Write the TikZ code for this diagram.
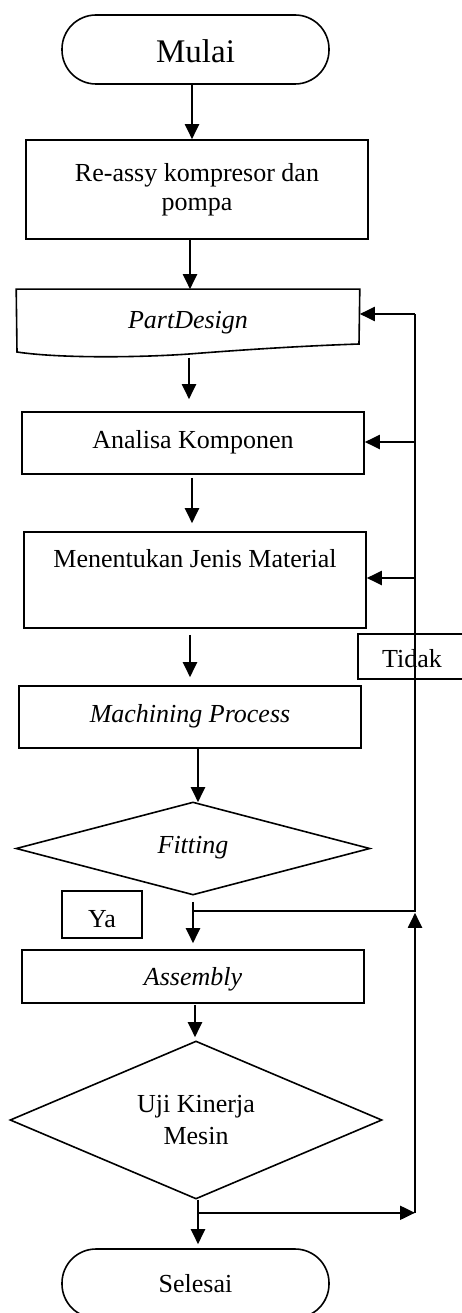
\documentclass[tikz,border=0pt]{standalone}
\usepackage{fontspec}
\setmainfont{Liberation Serif}
\usetikzlibrary{arrows.meta,shapes.geometric,calc}
\tikzset{
  base/.style={font=\fontsize{26pt}{29pt}\selectfont, line width=1.6pt, inner sep=0pt, align=center},
  box/.style={base, draw, rectangle, minimum width=342pt},
  onel/.style={text height=17pt, text depth=7pt},
  term/.style={base, draw, rectangle, rounded corners=34pt, minimum width=267pt, minimum height=69pt},
  decision/.style={base, draw, diamond},
  flowline/.style={line width=2pt},
  arr/.style={flowline, -{Triangle[length=15pt,width=14pt]}},
}
\begin{document}
\begin{tikzpicture}[x=1pt,y=-1pt]
\fill[white] (0,0) rectangle (462,1313);
\useasboundingbox (0,0) rectangle (462,1313);

% nodes
\node[term, text height=27pt, text depth=0pt, font=\fontsize{33pt}{36pt}\selectfont] (mulai) at (195.5,49.5) {Mulai};
\node[box, minimum height=99pt] (ra) at (197,189.5) {Re-assy kompresor dan\\pompa};
\node[box, onel, draw=none, minimum height=67pt] (pd) at (188,323.5) {\textit{PartDesign}};
\draw[line width=1.6pt] (pd.north west) -- (pd.north east) -- (359,344)
  .. controls (300,346) and (240,350) .. (189,354)
  .. controls (140,357.5) and (60,358.5) .. (17,352) -- cycle;
\node[box, onel, minimum height=62pt] (an) at (193,443) {Analisa Komponen};
\node[box, minimum height=96pt, text height=17pt, text depth=43pt] (mj) at (195,580) {Menentukan Jenis Material};
\node[base, draw, minimum width=108pt, minimum height=45pt, text height=21pt, text depth=0pt] (tidak) at (412,656.5) {Tidak};
\node[box, onel, minimum height=62pt] (mp) at (190,717) {\textit{Machining Process}};
\node[decision, onel, minimum width=354pt, minimum height=93pt, aspect=3.8] (fit) at (193,848.5) {\textit{Fitting}};
\node[base, draw, minimum width=80pt, minimum height=47pt, text height=25pt, text depth=0pt] (ya) at (102,914.5) {Ya};
\node[box, minimum height=53pt, text height=20pt, text depth=3pt] (as) at (193,976.5) {\textit{Assembly}};
\node[decision, minimum width=372pt, minimum height=158pt, aspect=2.35, font=\fontsize{26pt}{32pt}\selectfont] (uji) at (196,1120) {Uji Kinerja\\Mesin};
\node[term, text height=20pt, text depth=3pt] (sel) at (195.5,1283.5) {Selesai};

% main flow
\draw[arr] ($(mulai.south)+(-3.5,0)$) -- ($(ra.north)+(-5,0)$);
\draw[arr] ($(ra.south)+(-7,0)$) -- ($(pd.north)+(2,0)$);
\draw[arr] ($(pd.south)+(1,0)$) -- ($(an.north)+(-4,-12)$);
\draw[arr] ($(an.south)+(-1,3)$) -- ($(mj.north)+(-3,-8)$);
\draw[arr] ($(mj.south)+(-5,6)$) -- ($(mp.north)+(0,-8)$);
\draw[arr] ($(mp.south)+(8,0)$) -- ($(fit.north)+(5,1)$);
\draw[arr] ($(fit.south)+(0,6)$) -- ($(as.north)+(0,-6)$);
\draw[arr] ($(as.south)+(2,1)$) -- ($(uji.north)+(-1,-3)$);
\draw[arr] ($(uji.south)+(2,0)$) -- ($(sel.north)+(2.5,-4)$);

% feedback loop
\coordinate (j1) at ($(fit.south)+(0,15)$);
\coordinate (rt) at (415,314);
\coordinate (j2) at (rt |- j1);
\coordinate (j3) at ($(uji.south)+(2,13)$);
\coordinate (rb) at (rt |- j3);
\draw[flowline] (j1) -- (j2) -- (rt);
\draw[arr] (j3) -- (rb);
\draw[arr] (rb) -- ($(j2)+(0,2)$);
\draw[arr] (rt) -- (rt -| pd.east);
\draw[arr] ($(rt |- an.east)+(0,-1)$) -- ($(an.east)+(0,-1)$);
\draw[arr] ($(rt |- mj.east)+(0,-2)$) -- ($(mj.east)+(0,-2)$);
\end{tikzpicture}
\end{document}
